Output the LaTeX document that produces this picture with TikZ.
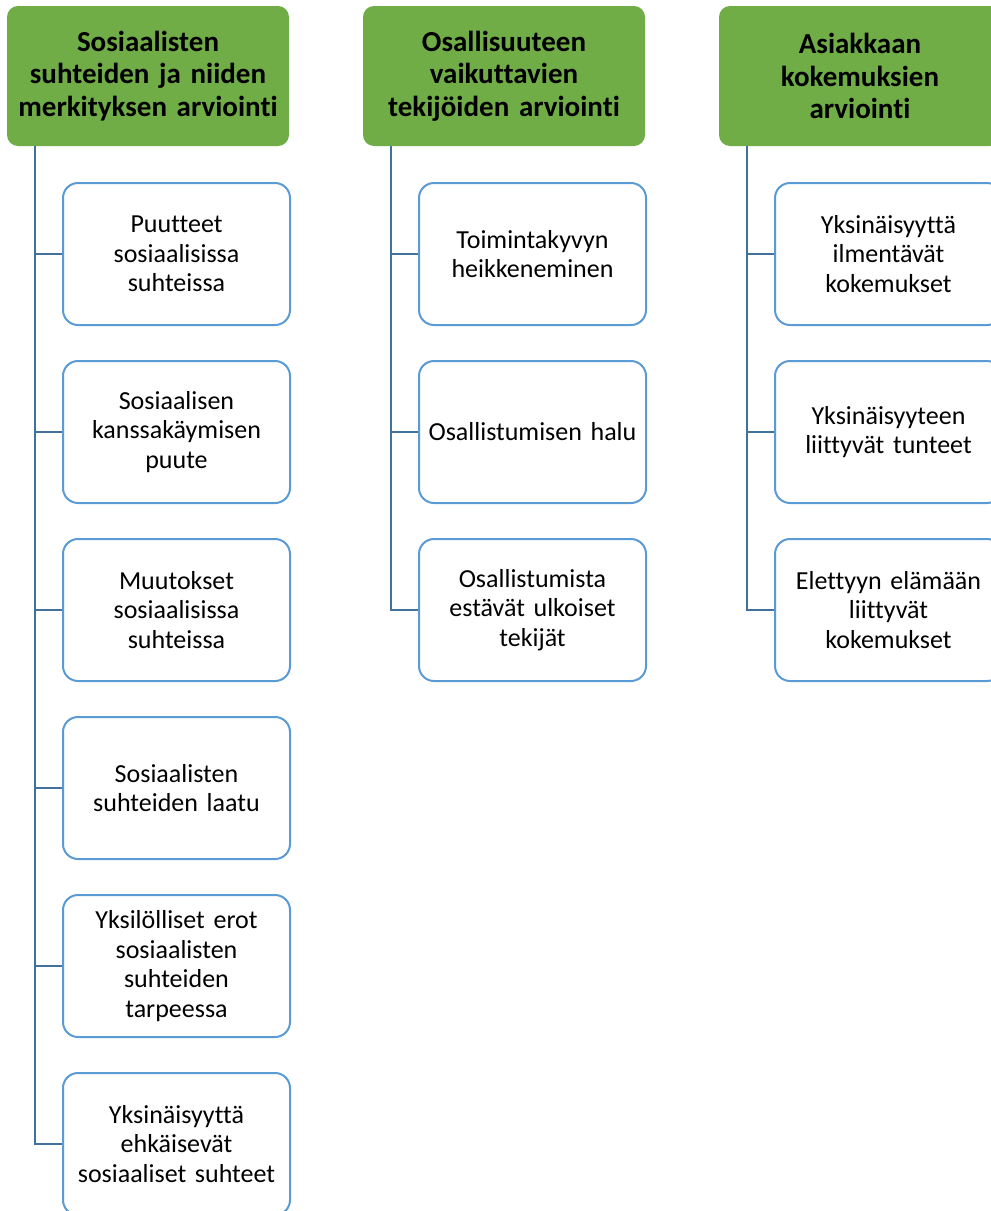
\documentclass[tikz,border=0pt]{standalone}
\usepackage{fontspec}
\setmainfont{Carlito}[Ligatures=NoCommon]
\definecolor{headgreen}{HTML}{70AD47}
\definecolor{itemblue}{HTML}{5B9BD5}
\definecolor{linkblue}{HTML}{41719C}
\begin{document}
\begin{tikzpicture}[x=1pt,y=-1pt,
  head/.style={fill=headgreen, rounded corners=11pt, minimum width=282pt,
    minimum height=140pt, align=center, text width=278pt, inner sep=0pt,
    font=\fontsize{29}{32.5}\selectfont\bfseries},
  item/.style={draw=itemblue, line width=2pt, fill=white, rounded corners=15pt,
    minimum width=227pt, minimum height=142pt, align=center, text width=222pt,
    inner sep=0pt, font=\fontsize{26}{29.5}\selectfont},
  link/.style={draw=linkblue, line width=2.5pt}]
\useasboundingbox (0,0) rectangle (991,1211);
\clip (0,0) rectangle (991,1211);

% column headers
\node[head] (h1) at (148,76) {Sosiaalisten\\suhteiden ja niiden\\merkityksen arviointi};
\node[head] (h2) at (504,76) {Osallisuuteen\\vaikuttavien\\tekijöiden arviointi};
\node[head] (h3) at (860,76) {Asiakkaan\\kokemuksien\\arviointi};

% trunk positions
\coordinate (t1) at (35,0);
\coordinate (t2) at (391,0);
\coordinate (t3) at (747,0);

% first column
\node[item] (a1) at (176.5,254) {Puutteet\\sosiaalisissa\\suhteissa};
\node[item] (a2) at (176.5,432) {Sosiaalisen\\kanssakäymisen\\puute};
\node[item] (a3) at (176.5,610) {Muutokset\\sosiaalisissa\\suhteissa};
\node[item] (a4) at (176.5,788) {Sosiaalisten\\suhteiden laatu};
\node[item] (a5) at (176.5,966) {Yksilölliset erot\\sosiaalisten\\suhteiden\\tarpeessa};
\node[item] (a6) at (176.5,1144) {Yksinäisyyttä\\ehkäisevät\\sosiaaliset suhteet};

% second column
\node[item] (b1) at (532.5,254) {Toimintakyvyn\\heikkeneminen};
\node[item] (b2) at (532.5,432) {Osallistumisen halu};
\node[item] (b3) at (532.5,610) {Osallistumista\\estävät ulkoiset\\tekijät};

% third column
\node[item] (c1) at (888.5,254) {Yksinäisyyttä\\ilmentävät\\kokemukset};
\node[item] (c2) at (888.5,432) {Yksinäisyyteen\\liittyvät tunteet};
\node[item] (c3) at (888.5,610) {Elettyyn elämään\\liittyvät\\kokemukset};

% connectors
\draw[link] (h1.south -| t1) -- (t1 |- a6.west) -- (a6.west);
\foreach \n in {a1,a2,a3,a4,a5} \draw[link] (t1 |- \n.west) -- (\n.west);
\draw[link] (h2.south -| t2) -- (t2 |- b3.west) -- (b3.west);
\foreach \n in {b1,b2} \draw[link] (t2 |- \n.west) -- (\n.west);
\draw[link] (h3.south -| t3) -- (t3 |- c3.west) -- (c3.west);
\foreach \n in {c1,c2} \draw[link] (t3 |- \n.west) -- (\n.west);
\end{tikzpicture}
\end{document}
